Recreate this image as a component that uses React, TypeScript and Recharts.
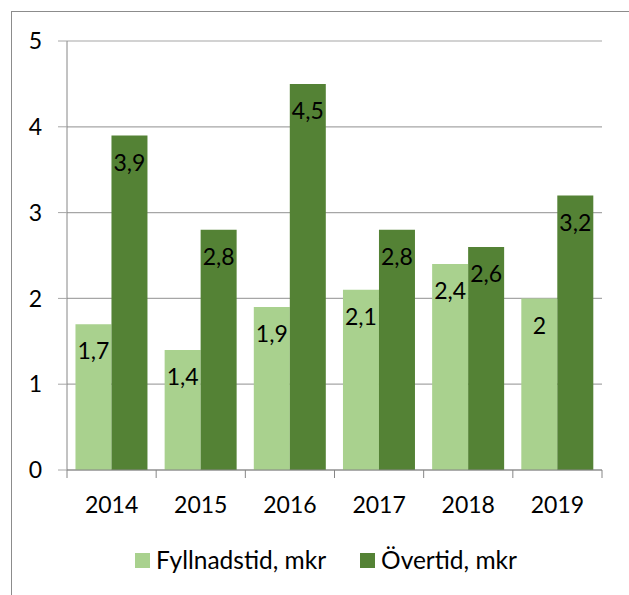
import { BarChart, Bar, XAxis, YAxis, CartesianGrid, Legend, LabelList } from 'recharts'

const YEARS = ['2014', '2015', '2016', '2017', '2018', '2019']
const FYLLNADSTID = [1.7, 1.4, 1.9, 2.1, 2.4, 2.0]
const OVERTID = [3.9, 2.8, 4.5, 2.8, 2.6, 3.2]
const Y_TICKS = [0, 1, 2, 3, 4, 5]

const SERIES = [
  { key: 'fyllnad', name: 'Fyllnadstid, mkr', color: '#a9d18e' },
  { key: 'over', name: 'Övertid, mkr', color: '#548235' },
]

const data = YEARS.map((year, i) => ({ year, fyllnad: FYLLNADSTID[i], over: OVERTID[i] }))

const AXIS = '#868686'
const GRID = '#a6a6a6'

// swedish decimal comma
const fmt = (v: any) => String(v).replace('.', ',')

function YearTick(props: any) {
  const { x, y, payload, index } = props
  const off = payload.offset || 0
  return (
    <g>
      <line x1={x - off} x2={x - off} y1={y} y2={y + 8} stroke={AXIS} />
      {index === YEARS.length - 1 && <line x1={x + off} x2={x + off} y1={y} y2={y + 8} stroke={AXIS} />}
      <text x={x} y={y + 43} textAnchor="middle" fontSize={23} fill="#000">
        {payload.value}
      </text>
    </g>
  )
}

function LegendRow(props: any) {
  const items = props.payload || []
  return (
    <div style={{ display: 'flex', justifyContent: 'center', alignItems: 'center', height: 28 }}>
      {items.map((it: any, i: number) => (
        <div key={i} style={{ display: 'flex', alignItems: 'center', marginRight: i < items.length - 1 ? 34 : 0 }}>
          <span style={{ width: 15, height: 15, background: it.color, marginRight: 6, display: 'inline-block' }} />
          <span style={{ fontSize: 24.5, color: '#000', lineHeight: '28px' }}>{it.value}</span>
        </div>
      ))}
    </div>
  )
}

export default function App() {
  return (
    <div style={{ position: 'absolute', left: 0, top: 0, width: 629, height: 595, overflow: 'hidden', background: '#fff', fontFamily: 'Lato, sans-serif' }}>
      <div style={{ position: 'absolute', left: 11, top: 11, width: 660, height: 640, border: '1px solid #8c8c8c' }} />
      <div style={{ position: 'absolute', left: 0, top: 0 }}>
        <BarChart
          width={629}
          height={595}
          data={data}
          margin={{ top: 41, right: 27, left: 0, bottom: 65 }}
          barCategoryGap="9.5%"
          barGap={0}
        >
          <CartesianGrid vertical={false} stroke={GRID} strokeWidth={1.2} />
          <XAxis
            dataKey="year"
            height={60}
            interval={0}
            tickLine={false}
            tickSize={0}
            tickMargin={0}
            axisLine={{ stroke: AXIS }}
            tick={<YearTick />}
          />
          <YAxis
            width={67}
            domain={[0, 5]}
            ticks={Y_TICKS}
            tickSize={9}
            tickMargin={16}
            tickLine={{ stroke: GRID }}
            axisLine={{ stroke: AXIS }}
            tick={{ fill: '#000', fontSize: 23 }}
          />
          {SERIES.map((s) => (
            <Bar key={s.key} dataKey={s.key} name={s.name} fill={s.color} isAnimationActive={false}>
              <LabelList dataKey={s.key} position="insideTop" offset={19} fill="#000" fontSize={23} formatter={fmt} />
            </Bar>
          ))}
          <Legend verticalAlign="middle" layout="horizontal" wrapperStyle={{ top: 546, left: 11, width: 630 }} content={<LegendRow />} />
        </BarChart>
      </div>
    </div>
  )
}
